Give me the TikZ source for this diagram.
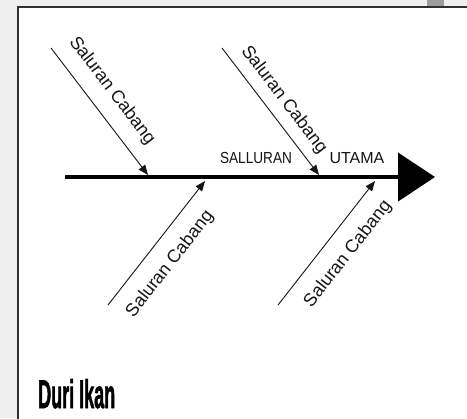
\documentclass[tikz,border=0pt]{standalone}
\usepackage{fontspec}
\setmainfont{Liberation Sans}
\newfontfamily\titlefont[FakeBold=2]{Liberation Sans Bold}
\usetikzlibrary{arrows.meta}
\definecolor{bggray}{HTML}{EFEFEF}
\definecolor{tabgray}{HTML}{9C9C9C}
\definecolor{framegray}{HTML}{303030}
\definecolor{inkc}{HTML}{151515}
\tikzset{
  branch/.style={draw=inkc, line width=0.9bp, -{Triangle[length=10bp,width=8bp]}},
  spine/.style={draw=black, line width=4.5bp, -{Triangle[length=37bp,width=48bp]}},
  cablabel/.style={inner sep=0pt, font=\fontsize{18bp}{20bp}\selectfont, text=inkc},
  mainlabel/.style={inner sep=0pt, font=\fontsize{16bp}{18bp}\selectfont, text=inkc},
}
\begin{document}
\begin{tikzpicture}[x=1bp,y=-1bp]
\useasboundingbox (0,0) rectangle (467,418);
\fill[bggray] (0,0) rectangle (467,418);
\fill[tabgray] (427,0) rectangle (444,7);
\fill[white] (18,7) rectangle (475,425);
\draw[framegray, line width=1.5bp] (18,425) -- (18,7) -- (475,7);
% spine
\coordinate (sp0) at (65,177);
\coordinate (sp1) at (435,177);
\draw[spine] (sp0) -- (sp1);
% branches
\coordinate (u1s) at (51,48);   \coordinate (u1e) at (148,175);
\coordinate (u2s) at (222,48);  \coordinate (u2e) at (319,175);
\coordinate (l1s) at (108,305); \coordinate (l1e) at (205,181);
\coordinate (l2s) at (278,305); \coordinate (l2e) at (375,181);
\draw[branch] (u1s) -- (u1e);
\draw[branch] (u2s) -- (u2e);
\draw[branch] (l1s) -- (l1e);
\draw[branch] (l2s) -- (l2e);
% labels
\node[cablabel, rotate=-52.8] (t1) at (112,91) {Saluran Cabang};
\node[cablabel, rotate=-52.8] (t2) at (284,100) {Saluran Cabang};
\node[cablabel, rotate=52] (t3) at (170,264) {Saluran Cabang};
\node[cablabel, rotate=52] (t4) at (348,254) {Saluran Cabang};
\node[mainlabel, xscale=0.85] (m1) at (256,158) {SALLURAN};
\node[mainlabel] (m2) at (357,158) {UTAMA};
\node[inner sep=0pt, anchor=base west] (title) at (38,408)
  {\resizebox{77bp}{29bp}{\titlefont Duri Ikan}};
\end{tikzpicture}
\end{document}
